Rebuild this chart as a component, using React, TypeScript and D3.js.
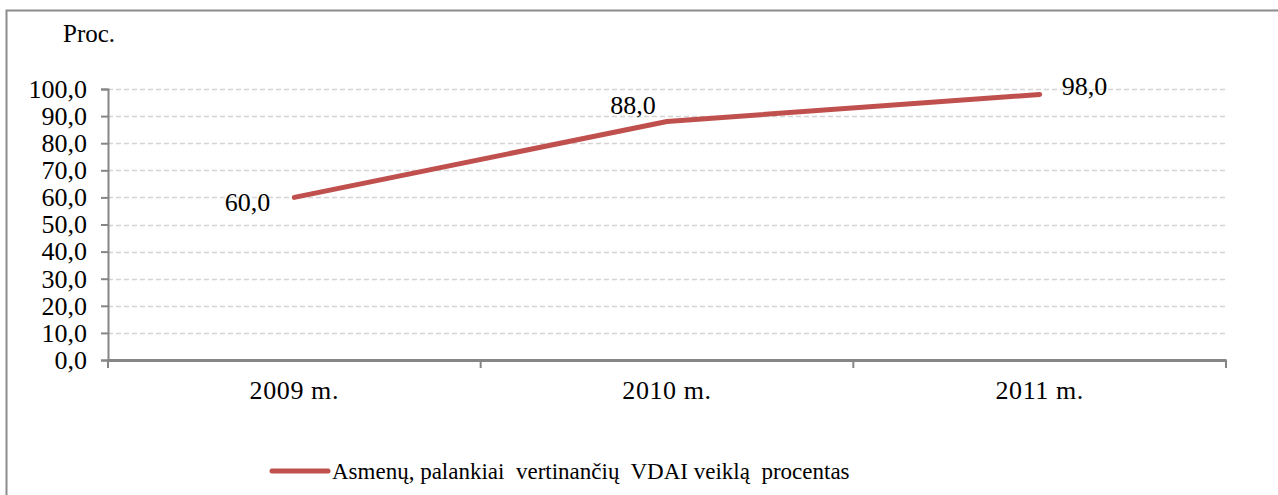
import { useEffect, useRef } from "react";
import * as d3 from "d3";

const years = ["2009 m.", "2010 m.", "2011 m."];
const values = [60.0, 88.0, 98.0];
const yTicks = [0, 10, 20, 30, 40, 50, 60, 70, 80, 90, 100];
const seriesName = "Asmenų, palankiai  vertinančių  VDAI veiklą  procentas";

const W = 1278;
const H = 495;

export default function App() {
  const ref = useRef<SVGSVGElement | null>(null);

  useEffect(() => {
    const margin = { top: 89, right: 52, bottom: 135, left: 108 };
    const svg = d3.select(ref.current);
    svg.selectAll("*").remove();

    const font = '"Liberation Serif", "Times New Roman", serif';
    const axisColor = "#868686";
    const fs = 26;

    svg.append("rect").attr("width", W).attr("height", H).attr("fill", "#fff");

    // outer frame (runs off the right and bottom edges)
    svg
      .append("path")
      .attr("d", `M6.5,${H + 5} V10.5 H${W + 5}`)
      .attr("fill", "none")
      .attr("stroke", "#8c8c8c")
      .attr("stroke-width", 2);

    const x = d3
      .scaleBand()
      .domain(years)
      .range([margin.left, W - margin.right]);

    const y = d3
      .scaleLinear()
      .domain([0, 100])
      .range([H - margin.bottom, margin.top]);

    // gridlines
    svg
      .append("g")
      .selectAll("line")
      .data(yTicks.filter((t) => t > 0))
      .join("line")
      .attr("x1", margin.left)
      .attr("x2", W - margin.right)
      .attr("y1", (d) => Math.round(y(d)) + 0.5)
      .attr("y2", (d) => Math.round(y(d)) + 0.5)
      .attr("stroke", "#d4d4d4")
      .attr("stroke-width", 1.3)
      .attr("stroke-dasharray", "5,3");

    // y axis
    const yAxis = svg
      .append("g")
      .attr("transform", `translate(${margin.left},0)`)
      .call(
        d3
          .axisLeft(y)
          .tickValues(yTicks)
          .tickSize(7)
          .tickPadding(14)
          .tickFormat((d) => d3.format(".1f")(d as number).replace(".", ","))
      );
    yAxis.select(".domain").attr("stroke", axisColor).attr("stroke-width", 2);
    yAxis.selectAll(".tick line").attr("stroke", axisColor).attr("stroke-width", 2);
    yAxis
      .selectAll(".tick text")
      .style("font-family", font)
      .style("font-size", fs + "px")
      .attr("fill", "#000");

    // x axis
    const xAxis = svg
      .append("g")
      .attr("transform", `translate(0,${H - margin.bottom})`)
      .call(d3.axisBottom(x).tickSize(0).tickPadding(21));
    xAxis.select(".domain").attr("stroke", axisColor).attr("stroke-width", 3);
    xAxis
      .selectAll(".tick text")
      .style("font-family", font)
      .style("font-size", fs + "px")
      .style("letter-spacing", "0.6px")
      .attr("fill", "#000");

    const bounds = years.map((d) => x(d) as number).concat([W - margin.right]);
    xAxis
      .selectAll(".sep")
      .data(bounds)
      .join("line")
      .attr("class", "sep")
      .attr("x1", (d) => d)
      .attr("x2", (d) => d)
      .attr("y1", 0)
      .attr("y2", 8)
      .attr("stroke", axisColor)
      .attr("stroke-width", 2);

    // line
    const pts = years.map(
      (d, i) => [(x(d) as number) + x.bandwidth() / 2, y(values[i])] as [number, number]
    );
    svg
      .append("path")
      .datum(pts)
      .attr("fill", "none")
      .attr("stroke", "#c0504d")
      .attr("stroke-width", 5)
      .attr("stroke-linecap", "round")
      .attr("stroke-linejoin", "round")
      .attr("d", d3.line());

    // data labels
    const offsets: [number, number, string][] = [
      [-24, 14, "end"],
      [-34, -8, "middle"],
      [22, 1, "start"],
    ];
    svg
      .append("g")
      .selectAll("text")
      .data(pts)
      .join("text")
      .attr("x", (d, i) => d[0] + offsets[i][0])
      .attr("y", (d, i) => d[1] + offsets[i][1])
      .attr("text-anchor", (d, i) => offsets[i][2])
      .style("font-family", font)
      .style("font-size", "26px")
      .attr("fill", "#000")
      .text((d, i) => d3.format(".1f")(values[i]).replace(".", ","));

    // axis title
    svg
      .append("text")
      .attr("x", 63)
      .attr("y", 42)
      .style("font-family", font)
      .style("font-size", "25px")
      .text("Proc.");

    // legend
    svg
      .append("line")
      .attr("x1", 272)
      .attr("x2", 328)
      .attr("y1", 471)
      .attr("y2", 471)
      .attr("stroke", "#c0504d")
      .attr("stroke-width", 5)
      .attr("stroke-linecap", "round");
    svg
      .append("text")
      .attr("x", 332)
      .attr("y", 479)
      .style("font-family", font)
      .style("font-size", "23px")
      .style("white-space", "pre")
      .text(seriesName);
  }, []);

  return (
    <svg
      ref={ref}
      width={W}
      height={H}
      style={{ position: "absolute", left: 0, top: 0, display: "block" }}
    />
  );
}
